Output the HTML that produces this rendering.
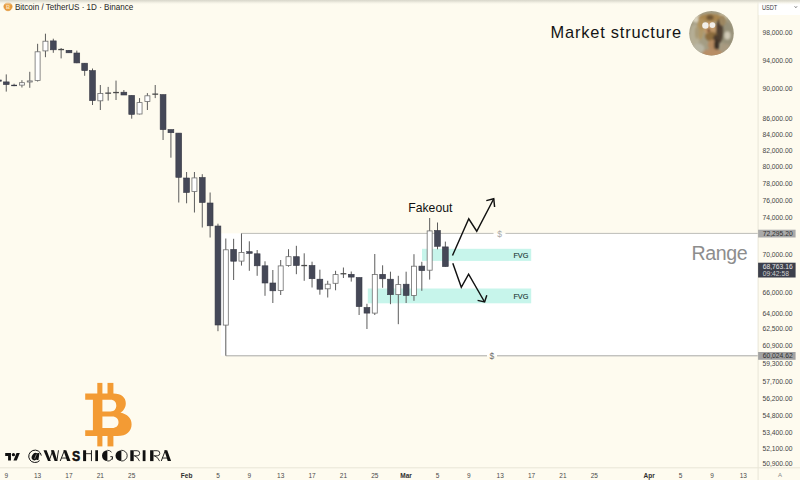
<!DOCTYPE html>
<html><head><meta charset="utf-8"><style>
html,body{margin:0;padding:0;background:#fefbef;}
body{width:800px;height:480px;overflow:hidden;position:relative;font-family:"Liberation Sans",sans-serif;}
svg{position:absolute;left:0;top:0;}
svg text{font-family:"Liberation Sans",sans-serif;}
</style></head><body>
<svg width="800" height="480" viewBox="0 0 800 480">
<rect x="0" y="0" width="800" height="480" fill="#fefbef"/>
<defs><linearGradient id="tg" x1="0" y1="0" x2="0" y2="1"><stop offset="0" stop-color="#d8d6ca"/><stop offset="0.35" stop-color="#e8e6da"/><stop offset="1" stop-color="#fefbef" stop-opacity="0"/></linearGradient></defs>

<rect x="221" y="233.4" width="537" height="122.3" fill="#ffffff"/>
<rect x="422" y="248.8" width="109.2" height="12.1" fill="#c7f5eb"/>
<rect x="367.8" y="288.5" width="163.4" height="14.8" fill="#c7f5eb"/>
<line x1="241.6" y1="233.4" x2="493.5" y2="233.4" stroke="#bdbdb8" stroke-width="1"/>
<line x1="505.5" y1="233.4" x2="758" y2="233.4" stroke="#bdbdb8" stroke-width="1"/>
<line x1="225.8" y1="355.8" x2="487" y2="355.8" stroke="#a9a9a6" stroke-width="1"/>
<line x1="497" y1="355.8" x2="758" y2="355.8" stroke="#a9a9a6" stroke-width="1"/>
<line x1="-1.59" y1="79.0" x2="-1.59" y2="82.0" stroke="#5c5c5c" stroke-width="1"/>
<rect x="-4.49" y="80.0" width="5.8" height="1.20" fill="#454857" stroke="#373945" stroke-width="0.6"/>
<line x1="6.25" y1="74.4" x2="6.25" y2="91.6" stroke="#5c5c5c" stroke-width="1"/>
<rect x="3.35" y="81.9" width="5.8" height="2.70" fill="#454857" stroke="#373945" stroke-width="0.6"/>
<line x1="14.09" y1="83.7" x2="14.09" y2="86.2" stroke="#5c5c5c" stroke-width="1"/>
<rect x="11.19" y="84.80" width="5.8" height="1.3" fill="#373945"/>
<line x1="21.93" y1="80.2" x2="21.93" y2="87.5" stroke="#5c5c5c" stroke-width="1"/>
<rect x="19.43" y="82.70" width="5.00" height="2.40" fill="#ffffff" stroke="#6e6e6e" stroke-width="0.8"/>
<line x1="29.77" y1="71.8" x2="29.77" y2="87.8" stroke="#5c5c5c" stroke-width="1"/>
<rect x="27.27" y="80.90" width="5.00" height="1.10" fill="#ffffff" stroke="#6e6e6e" stroke-width="0.8"/>
<line x1="37.61" y1="43.8" x2="37.61" y2="81.5" stroke="#5c5c5c" stroke-width="1"/>
<rect x="35.11" y="51.80" width="5.00" height="28.60" fill="#ffffff" stroke="#6e6e6e" stroke-width="0.8"/>
<line x1="45.45" y1="33.7" x2="45.45" y2="57.2" stroke="#5c5c5c" stroke-width="1"/>
<rect x="42.95" y="41.20" width="5.00" height="9.70" fill="#ffffff" stroke="#6e6e6e" stroke-width="0.8"/>
<line x1="53.30" y1="38.7" x2="53.30" y2="52.8" stroke="#5c5c5c" stroke-width="1"/>
<rect x="50.40" y="40.9" width="5.8" height="8.90" fill="#454857" stroke="#373945" stroke-width="0.6"/>
<line x1="61.14" y1="48.0" x2="61.14" y2="58.4" stroke="#5c5c5c" stroke-width="1"/>
<rect x="58.24" y="48.90" width="5.8" height="1.3" fill="#4a4a4a"/>
<line x1="68.98" y1="50.0" x2="68.98" y2="52.8" stroke="#5c5c5c" stroke-width="1"/>
<rect x="66.08" y="50.3" width="5.8" height="2.50" fill="#454857" stroke="#373945" stroke-width="0.6"/>
<line x1="76.82" y1="50.6" x2="76.82" y2="63.2" stroke="#5c5c5c" stroke-width="1"/>
<rect x="73.92" y="53.0" width="5.8" height="9.90" fill="#454857" stroke="#373945" stroke-width="0.6"/>
<line x1="84.66" y1="63.0" x2="84.66" y2="75.8" stroke="#5c5c5c" stroke-width="1"/>
<rect x="81.76" y="63.2" width="5.8" height="7.40" fill="#454857" stroke="#373945" stroke-width="0.6"/>
<line x1="92.50" y1="68.5" x2="92.50" y2="105.0" stroke="#5c5c5c" stroke-width="1"/>
<rect x="89.60" y="70.6" width="5.8" height="30.00" fill="#454857" stroke="#373945" stroke-width="0.6"/>
<line x1="100.34" y1="85.0" x2="100.34" y2="110.0" stroke="#5c5c5c" stroke-width="1"/>
<rect x="97.84" y="93.50" width="5.00" height="7.30" fill="#ffffff" stroke="#6e6e6e" stroke-width="0.8"/>
<line x1="108.18" y1="86.9" x2="108.18" y2="100.6" stroke="#5c5c5c" stroke-width="1"/>
<rect x="105.28" y="92.50" width="5.8" height="1.3" fill="#4a4a4a"/>
<line x1="116.02" y1="80.6" x2="116.02" y2="100.0" stroke="#5c5c5c" stroke-width="1"/>
<rect x="113.12" y="91.90" width="5.8" height="1.3" fill="#4a4a4a"/>
<line x1="123.87" y1="90.0" x2="123.87" y2="95.0" stroke="#5c5c5c" stroke-width="1"/>
<rect x="120.97" y="92.2" width="5.8" height="2.80" fill="#454857" stroke="#373945" stroke-width="0.6"/>
<line x1="131.71" y1="95.4" x2="131.71" y2="118.7" stroke="#5c5c5c" stroke-width="1"/>
<rect x="128.81" y="95.4" width="5.8" height="19.00" fill="#454857" stroke="#373945" stroke-width="0.6"/>
<line x1="139.55" y1="98.1" x2="139.55" y2="114.4" stroke="#5c5c5c" stroke-width="1"/>
<rect x="137.05" y="102.60" width="5.00" height="11.40" fill="#ffffff" stroke="#6e6e6e" stroke-width="0.8"/>
<line x1="147.39" y1="93.1" x2="147.39" y2="110.0" stroke="#5c5c5c" stroke-width="1"/>
<rect x="144.89" y="95.80" width="5.00" height="5.70" fill="#ffffff" stroke="#6e6e6e" stroke-width="0.8"/>
<line x1="155.23" y1="85.0" x2="155.23" y2="98.1" stroke="#5c5c5c" stroke-width="1"/>
<rect x="152.33" y="93.50" width="5.8" height="1.3" fill="#4a4a4a"/>
<line x1="163.07" y1="94.6" x2="163.07" y2="140.0" stroke="#5c5c5c" stroke-width="1"/>
<rect x="160.17" y="94.6" width="5.8" height="35.00" fill="#454857" stroke="#373945" stroke-width="0.6"/>
<line x1="170.91" y1="129.6" x2="170.91" y2="157.7" stroke="#5c5c5c" stroke-width="1"/>
<rect x="168.01" y="129.6" width="5.8" height="3.10" fill="#454857" stroke="#373945" stroke-width="0.6"/>
<line x1="178.75" y1="133.0" x2="178.75" y2="202.5" stroke="#5c5c5c" stroke-width="1"/>
<rect x="175.85" y="133.1" width="5.8" height="44.20" fill="#454857" stroke="#373945" stroke-width="0.6"/>
<line x1="186.59" y1="172.0" x2="186.59" y2="203.3" stroke="#5c5c5c" stroke-width="1"/>
<rect x="183.69" y="178.0" width="5.8" height="14.50" fill="#454857" stroke="#373945" stroke-width="0.6"/>
<line x1="194.43" y1="172.0" x2="194.43" y2="212.5" stroke="#5c5c5c" stroke-width="1"/>
<rect x="191.93" y="177.90" width="5.00" height="13.70" fill="#ffffff" stroke="#6e6e6e" stroke-width="0.8"/>
<line x1="202.28" y1="174.2" x2="202.28" y2="227.5" stroke="#5c5c5c" stroke-width="1"/>
<rect x="199.38" y="177.5" width="5.8" height="25.00" fill="#454857" stroke="#373945" stroke-width="0.6"/>
<line x1="210.12" y1="192.5" x2="210.12" y2="237.5" stroke="#5c5c5c" stroke-width="1"/>
<rect x="207.22" y="203.0" width="5.8" height="22.80" fill="#454857" stroke="#373945" stroke-width="0.6"/>
<line x1="217.96" y1="223.7" x2="217.96" y2="331.2" stroke="#5c5c5c" stroke-width="1"/>
<rect x="215.06" y="226.0" width="5.8" height="99.00" fill="#454857" stroke="#373945" stroke-width="0.6"/>
<line x1="225.80" y1="238.5" x2="225.80" y2="355.7" stroke="#5c5c5c" stroke-width="1"/>
<rect x="223.30" y="249.80" width="5.00" height="75.30" fill="#ffffff" stroke="#6e6e6e" stroke-width="0.8"/>
<line x1="233.64" y1="238.8" x2="233.64" y2="280.0" stroke="#5c5c5c" stroke-width="1"/>
<rect x="230.74" y="249.4" width="5.8" height="11.80" fill="#454857" stroke="#373945" stroke-width="0.6"/>
<line x1="241.48" y1="233.4" x2="241.48" y2="265.6" stroke="#5c5c5c" stroke-width="1"/>
<rect x="238.98" y="252.40" width="5.00" height="8.70" fill="#ffffff" stroke="#6e6e6e" stroke-width="0.8"/>
<line x1="249.32" y1="241.3" x2="249.32" y2="270.8" stroke="#5c5c5c" stroke-width="1"/>
<rect x="246.42" y="251.7" width="5.8" height="1.60" fill="#454857" stroke="#373945" stroke-width="0.6"/>
<line x1="257.16" y1="250.0" x2="257.16" y2="275.8" stroke="#5c5c5c" stroke-width="1"/>
<rect x="254.26" y="253.8" width="5.8" height="12.00" fill="#454857" stroke="#373945" stroke-width="0.6"/>
<line x1="265.00" y1="261.3" x2="265.00" y2="295.8" stroke="#5c5c5c" stroke-width="1"/>
<rect x="262.10" y="265.8" width="5.8" height="17.20" fill="#454857" stroke="#373945" stroke-width="0.6"/>
<line x1="272.84" y1="270.0" x2="272.84" y2="303.0" stroke="#5c5c5c" stroke-width="1"/>
<rect x="269.94" y="283.0" width="5.8" height="7.80" fill="#454857" stroke="#373945" stroke-width="0.6"/>
<line x1="280.69" y1="260.0" x2="280.69" y2="295.0" stroke="#5c5c5c" stroke-width="1"/>
<rect x="278.19" y="265.90" width="5.00" height="24.50" fill="#ffffff" stroke="#6e6e6e" stroke-width="0.8"/>
<line x1="288.53" y1="249.2" x2="288.53" y2="266.7" stroke="#5c5c5c" stroke-width="1"/>
<rect x="286.03" y="256.70" width="5.00" height="8.70" fill="#ffffff" stroke="#6e6e6e" stroke-width="0.8"/>
<line x1="296.37" y1="245.8" x2="296.37" y2="274.2" stroke="#5c5c5c" stroke-width="1"/>
<rect x="293.47" y="256.7" width="5.8" height="8.80" fill="#454857" stroke="#373945" stroke-width="0.6"/>
<line x1="304.21" y1="253.3" x2="304.21" y2="280.8" stroke="#5c5c5c" stroke-width="1"/>
<rect x="301.31" y="264.90" width="5.8" height="1.3" fill="#4a4a4a"/>
<line x1="312.05" y1="261.7" x2="312.05" y2="287.5" stroke="#5c5c5c" stroke-width="1"/>
<rect x="309.15" y="265.5" width="5.8" height="13.20" fill="#454857" stroke="#373945" stroke-width="0.6"/>
<line x1="319.89" y1="269.7" x2="319.89" y2="294.7" stroke="#5c5c5c" stroke-width="1"/>
<rect x="316.99" y="279.2" width="5.8" height="10.00" fill="#454857" stroke="#373945" stroke-width="0.6"/>
<line x1="327.73" y1="280.8" x2="327.73" y2="297.5" stroke="#5c5c5c" stroke-width="1"/>
<rect x="325.23" y="284.20" width="5.00" height="4.60" fill="#ffffff" stroke="#6e6e6e" stroke-width="0.8"/>
<line x1="335.57" y1="270.8" x2="335.57" y2="290.3" stroke="#5c5c5c" stroke-width="1"/>
<rect x="333.07" y="274.60" width="5.00" height="8.70" fill="#ffffff" stroke="#6e6e6e" stroke-width="0.8"/>
<line x1="343.41" y1="267.5" x2="343.41" y2="278.0" stroke="#5c5c5c" stroke-width="1"/>
<rect x="340.51" y="273.10" width="5.8" height="1.3" fill="#4a4a4a"/>
<line x1="351.25" y1="271.5" x2="351.25" y2="281.6" stroke="#5c5c5c" stroke-width="1"/>
<rect x="348.35" y="274.3" width="5.8" height="2.80" fill="#454857" stroke="#373945" stroke-width="0.6"/>
<line x1="359.10" y1="277.5" x2="359.10" y2="315.0" stroke="#5c5c5c" stroke-width="1"/>
<rect x="356.20" y="277.5" width="5.8" height="29.10" fill="#454857" stroke="#373945" stroke-width="0.6"/>
<line x1="366.94" y1="303.8" x2="366.94" y2="329.0" stroke="#5c5c5c" stroke-width="1"/>
<rect x="364.04" y="307.5" width="5.8" height="5.60" fill="#454857" stroke="#373945" stroke-width="0.6"/>
<line x1="374.78" y1="254.0" x2="374.78" y2="315.0" stroke="#5c5c5c" stroke-width="1"/>
<rect x="372.28" y="274.50" width="5.00" height="38.60" fill="#ffffff" stroke="#6e6e6e" stroke-width="0.8"/>
<line x1="382.62" y1="265.3" x2="382.62" y2="287.8" stroke="#5c5c5c" stroke-width="1"/>
<rect x="379.72" y="274.3" width="5.8" height="4.50" fill="#454857" stroke="#373945" stroke-width="0.6"/>
<line x1="390.46" y1="271.7" x2="390.46" y2="304.2" stroke="#5c5c5c" stroke-width="1"/>
<rect x="387.56" y="279.2" width="5.8" height="15.50" fill="#454857" stroke="#373945" stroke-width="0.6"/>
<line x1="398.30" y1="275.8" x2="398.30" y2="324.2" stroke="#5c5c5c" stroke-width="1"/>
<rect x="395.80" y="284.60" width="5.00" height="10.00" fill="#ffffff" stroke="#6e6e6e" stroke-width="0.8"/>
<line x1="406.14" y1="271.7" x2="406.14" y2="303.0" stroke="#5c5c5c" stroke-width="1"/>
<rect x="403.24" y="284.2" width="5.8" height="11.30" fill="#454857" stroke="#373945" stroke-width="0.6"/>
<line x1="413.98" y1="254.2" x2="413.98" y2="300.8" stroke="#5c5c5c" stroke-width="1"/>
<rect x="411.48" y="266.20" width="5.00" height="29.20" fill="#ffffff" stroke="#6e6e6e" stroke-width="0.8"/>
<line x1="421.82" y1="261.8" x2="421.82" y2="290.8" stroke="#5c5c5c" stroke-width="1"/>
<rect x="418.92" y="266.1" width="5.8" height="4.50" fill="#454857" stroke="#373945" stroke-width="0.6"/>
<line x1="429.66" y1="218.0" x2="429.66" y2="279.6" stroke="#5c5c5c" stroke-width="1"/>
<rect x="427.16" y="230.90" width="5.00" height="39.30" fill="#ffffff" stroke="#6e6e6e" stroke-width="0.8"/>
<line x1="437.50" y1="222.5" x2="437.50" y2="249.3" stroke="#5c5c5c" stroke-width="1"/>
<rect x="434.61" y="230.5" width="5.8" height="15.80" fill="#454857" stroke="#373945" stroke-width="0.6"/>
<line x1="445.35" y1="241.6" x2="445.35" y2="266.6" stroke="#5c5c5c" stroke-width="1"/>
<rect x="442.45" y="246.9" width="5.8" height="19.70" fill="#454857" stroke="#373945" stroke-width="0.6"/>
<polyline points="452.5,255.5 468.75,218.75 476.75,231.25 493.75,198.75" fill="none" stroke="#111" stroke-width="1.45" stroke-linejoin="miter"/>
<polyline points="486.3,200.6 493.75,198.75 494.6,207" fill="none" stroke="#111" stroke-width="1.45"/>
<polyline points="452.8,263.2 461.3,287.3 468.6,274.2 484.6,302" fill="none" stroke="#111" stroke-width="1.45" stroke-linejoin="miter"/>
<polyline points="477.6,300.4 484.6,302 486.8,295.3" fill="none" stroke="#111" stroke-width="1.45"/>
<text x="499.6" y="236.6" font-size="8.5" fill="#a8a8a8" text-anchor="middle">$</text>
<text x="491.8" y="359.1" font-size="8.5" fill="#6e6e6e" text-anchor="middle">$</text>
<text x="513.4" y="258.4" font-size="8" fill="#1d3634" stroke="#1d3634" stroke-width="0.15" textLength="15" lengthAdjust="spacingAndGlyphs">FVG</text>
<text x="513.4" y="298.9" font-size="8" fill="#1d3634" stroke="#1d3634" stroke-width="0.15" textLength="15" lengthAdjust="spacingAndGlyphs">FVG</text>
<text x="408.3" y="212.0" font-size="12.2" fill="#111">Fakeout</text>
<text x="691.6" y="260.4" font-size="19.6" fill="#8d8d8d" letter-spacing="-0.45">Range</text>
<!-- right axis -->
<rect x="758" y="0" width="42" height="480" fill="#fefbef"/>
<rect x="757.6" y="0" width="1" height="480" fill="#e8e5d8"/>
<rect x="0" y="467.3" width="800" height="1" fill="#e8e5d8"/>
<rect x="758.6" y="0" width="41.4" height="15" fill="#ffffff"/>
<text x="761.9" y="10.1" font-size="6.6" fill="#3a3a3a" textLength="15.4" lengthAdjust="spacingAndGlyphs">USDT</text>
<path d="M794.7,6.4 L795.85,7.6 L797,6.4" fill="none" stroke="#333" stroke-width="0.75"/>
<text x="762.4" y="35.40" font-size="6.75" fill="#454545">98,000.00</text>
<text x="762.4" y="62.80" font-size="6.75" fill="#454545">94,000.00</text>
<text x="762.4" y="91.40" font-size="6.75" fill="#454545">90,000.00</text>
<text x="762.4" y="121.30" font-size="6.75" fill="#454545">86,000.00</text>
<text x="762.4" y="136.77" font-size="6.75" fill="#454545">84,000.00</text>
<text x="762.4" y="152.62" font-size="6.75" fill="#454545">82,000.00</text>
<text x="762.4" y="168.85" font-size="6.75" fill="#454545">80,000.00</text>
<text x="762.4" y="185.50" font-size="6.75" fill="#454545">78,000.00</text>
<text x="762.4" y="202.58" font-size="6.75" fill="#454545">76,000.00</text>
<text x="762.4" y="220.12" font-size="6.75" fill="#454545">74,000.00</text>
<text x="762.4" y="256.66" font-size="6.75" fill="#454545">70,000.00</text>
<text x="762.4" y="295.36" font-size="6.75" fill="#454545">66,000.00</text>
<text x="762.4" y="315.59" font-size="6.75" fill="#454545">64,000.00</text>
<text x="762.4" y="331.19" font-size="6.75" fill="#454545">62,500.00</text>
<text x="762.4" y="348.24" font-size="6.75" fill="#454545">60,900.00</text>
<text x="762.4" y="365.75" font-size="6.75" fill="#454545">59,300.00</text>
<text x="762.4" y="383.74" font-size="6.75" fill="#454545">57,700.00</text>
<text x="762.4" y="401.06" font-size="6.75" fill="#454545">56,200.00</text>
<text x="762.4" y="417.65" font-size="6.75" fill="#454545">54,800.00</text>
<text x="762.4" y="434.67" font-size="6.75" fill="#454545">53,400.00</text>
<text x="762.4" y="450.87" font-size="6.75" fill="#454545">52,100.00</text>
<text x="762.4" y="466.20" font-size="6.75" fill="#454545">50,900.00</text>
<rect x="758.1" y="229.7" width="37.5" height="7.8" fill="#a9a9a9"/>
<text x="762.7" y="235.8" font-size="6.75" fill="#2e2e2e">72,295.20</text>
<rect x="758.1" y="262.7" width="37.5" height="14.8" fill="#3c3f4b"/>
<text x="762.7" y="268.8" font-size="6.75" fill="#e6e6e6">68,763.16</text>
<text x="762.7" y="275.6" font-size="6.75" fill="#d0d0d0">09:42:58</text>
<rect x="758.1" y="352.0" width="37.5" height="7.8" fill="#a2a2a2"/>
<text x="762.7" y="358.2" font-size="6.75" fill="#2e2e2e">60,024.62</text>
<text x="780" y="477.4" font-size="6" fill="#888" text-anchor="middle">A</text>
<text x="6.25" y="477.6" font-size="6.5" fill="#4a4a4a" text-anchor="middle" >9</text>
<text x="37.61" y="477.6" font-size="6.5" fill="#4a4a4a" text-anchor="middle" >13</text>
<text x="68.98" y="477.6" font-size="6.5" fill="#4a4a4a" text-anchor="middle" >17</text>
<text x="100.34" y="477.6" font-size="6.5" fill="#4a4a4a" text-anchor="middle" >21</text>
<text x="131.71" y="477.6" font-size="6.5" fill="#4a4a4a" text-anchor="middle" >25</text>
<text x="186.59" y="477.6" font-size="6.5" fill="#2e2e2e" text-anchor="middle" font-weight="700">Feb</text>
<text x="217.96" y="477.6" font-size="6.5" fill="#4a4a4a" text-anchor="middle" >5</text>
<text x="249.32" y="477.6" font-size="6.5" fill="#4a4a4a" text-anchor="middle" >9</text>
<text x="280.69" y="477.6" font-size="6.5" fill="#4a4a4a" text-anchor="middle" >13</text>
<text x="312.05" y="477.6" font-size="6.5" fill="#4a4a4a" text-anchor="middle" >17</text>
<text x="343.41" y="477.6" font-size="6.5" fill="#4a4a4a" text-anchor="middle" >21</text>
<text x="374.78" y="477.6" font-size="6.5" fill="#4a4a4a" text-anchor="middle" >25</text>
<text x="406.14" y="477.6" font-size="6.5" fill="#2e2e2e" text-anchor="middle" font-weight="700">Mar</text>
<text x="437.50" y="477.6" font-size="6.5" fill="#4a4a4a" text-anchor="middle" >5</text>
<text x="468.87" y="477.6" font-size="6.5" fill="#4a4a4a" text-anchor="middle" >9</text>
<text x="500.23" y="477.6" font-size="6.5" fill="#4a4a4a" text-anchor="middle" >13</text>
<text x="531.60" y="477.6" font-size="6.5" fill="#4a4a4a" text-anchor="middle" >17</text>
<text x="562.96" y="477.6" font-size="6.5" fill="#4a4a4a" text-anchor="middle" >21</text>
<text x="594.33" y="477.6" font-size="6.5" fill="#4a4a4a" text-anchor="middle" >25</text>
<text x="649.21" y="477.6" font-size="6.5" fill="#2e2e2e" text-anchor="middle" font-weight="700">Apr</text>
<text x="680.58" y="477.6" font-size="6.5" fill="#4a4a4a" text-anchor="middle" >5</text>
<text x="711.94" y="477.6" font-size="6.5" fill="#4a4a4a" text-anchor="middle" >9</text>
<text x="743.30" y="477.6" font-size="6.5" fill="#4a4a4a" text-anchor="middle" >13</text>
<!-- header -->
<circle cx="8" cy="6.6" r="4.2" fill="#e99c3e" stroke="#d98a2a" stroke-width="0.5"/>
<text x="8" y="8.6" font-size="5.6" fill="#fbe2b8" text-anchor="middle" font-weight="700">B</text>
<text x="14.9" y="9.55" font-size="8.6" fill="#1c1c1c" textLength="118.4" lengthAdjust="spacingAndGlyphs">Bitcoin / TetherUS · 1D · Binance</text>

<!-- bitcoin logo -->
<g fill="#f39b34">
<rect x="97.3" y="382.9" width="5.1" height="11.5"/>
<rect x="107.5" y="382.9" width="5.9" height="11.5"/>
<rect x="97.3" y="435" width="5.1" height="11.4"/>
<rect x="107.5" y="435" width="5.9" height="11.4"/>
<path fill-rule="evenodd" d="M85.2 393.4 L113.5 393.4 C121.5 393.4 125.8 397.5 125.8 403.2 C125.8 407.8 123.2 411 120.4 412.6 C127.3 414.2 131.6 418.3 131.6 424.3 C131.6 431.3 126.6 436.1 117.5 436.1 L85.2 436.1 L85.2 430.3 L92.9 430.3 L92.9 399.7 L85.2 399.7 Z M102.4 399.7 L110.5 399.7 C114.5 399.7 116.3 402.3 116.3 405.5 C116.3 408.8 114.5 411.4 110.5 411.4 L102.4 411.4 Z M102.4 416.5 L112 416.5 C116.5 416.5 118.5 419 118.5 422.3 C118.5 425.6 116.5 428.1 112 428.1 L102.4 428.1 Z"/>
</g>
<!-- TV logo -->
<g transform="translate(5.2,451.35) scale(0.412)" fill="#111">
<path d="M14 22H7V11H0V4h14v18zM28 22h-8l7.5-18h8L28 22z"/><circle cx="20" cy="8" r="4"/>
</g>
<!-- watermark -->
<g fill="#111">
<path d="M39.6,460.6 A6.3,6.2 0 1 1 41.3,455.6" fill="none" stroke="#111" stroke-width="1.0"/>
<ellipse cx="35.0" cy="456.6" rx="3.0" ry="4.0" transform="rotate(30 35.0 456.6)" fill="#111"/><polygon points="37.4,452.9 39.5,452.9 38.4,460.1 36.3,460.1"/>
<line x1="36.4" y1="454.2" x2="34.6" y2="458.9" stroke="#fefbef" stroke-width="0.45"/>
<polygon points="43.50,450.25 46.60,450.25 50.80,461.10 48.00,461.10"/>
<polygon points="48.60,461.10 49.50,461.10 53.30,450.25 52.40,450.25"/>
<polygon points="50.90,450.25 54.00,450.25 57.40,461.10 54.60,461.10"/>
<polygon points="56.40,461.10 57.30,461.10 58.90,450.25 58.00,450.25"/>
<polygon points="59.75,461.10 60.70,461.10 64.95,450.25 64.05,450.25"/>
<polygon points="63.40,450.25 66.30,450.25 70.50,461.10 67.10,461.10"/>
<rect x="61.45" y="457.6" width="6.55" height="0.85"/>
<text x="72.0" y="461.1" font-size="15.2" font-weight="700" textLength="8.2" lengthAdjust="spacingAndGlyphs" stroke="#111" stroke-width="0.5">S</text>
<rect x="83.1" y="450.25" width="3.0" height="10.85"/>
<rect x="90.95" y="450.25" width="0.95" height="10.85"/>
<rect x="86" y="453.3" width="5" height="0.85"/>
<rect x="95.3" y="450.25" width="2.7" height="10.85"/>
<path d="M107.4,450.25 A5.4,5.425 0 0 0 107.4,461.1 Z"/>
<path d="M107.4,450.25 A5.4,5.425 0 0 1 111.54,452.19" fill="none" stroke="#111" stroke-width="0.85"/>
<path d="M112.68,456.80 A5.4,5.425 0 0 1 107.4,461.1" fill="none" stroke="#111" stroke-width="0.85"/>
<path d="M110.3,456.6 L112.4,456.6 L112.4,459.6" fill="none" stroke="#111" stroke-width="0.85"/>
<path d="M121.35,450.25 A5.85,5.425 0 0 0 121.35,461.1 Z"/>
<path d="M121.35,450.25 A5.85,5.425 0 0 1 121.35,461.1" fill="none" stroke="#111" stroke-width="0.85"/>
<rect x="130.3" y="450.25" width="3.4" height="10.85"/>
<path d="M133.70,450.7 L137.10,450.7 A2.6,2.55 0 0 1 137.10,455.8 L133.70,455.8" fill="none" stroke="#111" stroke-width="0.85"/>
<path d="M134.50,455.8 Q137.80,456.8 139.50,461.1" fill="none" stroke="#111" stroke-width="0.85"/>
<rect x="142.7" y="450.25" width="2.8" height="10.85"/>
<rect x="150.1" y="450.25" width="3.4" height="10.85"/>
<path d="M153.50,450.7 L157.20,450.7 A2.6,2.55 0 0 1 157.20,455.8 L153.50,455.8" fill="none" stroke="#111" stroke-width="0.85"/>
<path d="M154.30,455.8 Q157.90,456.8 159.60,461.1" fill="none" stroke="#111" stroke-width="0.85"/>
<polygon points="160.80,461.10 161.75,461.10 165.85,450.25 164.95,450.25"/>
<polygon points="164.30,450.25 167.20,450.25 171.10,461.10 167.70,461.10"/>
<rect x="162.50" y="457.6" width="6.10" height="0.85"/>
</g>
<!-- avatar -->
<defs>
<clipPath id="avc"><circle cx="711.5" cy="33.3" r="22.2"/></clipPath>
<filter id="bl" x="-20%" y="-20%" width="140%" height="140%"><feGaussianBlur stdDeviation="0.8"/></filter>
<filter id="bl2" x="-20%" y="-20%" width="140%" height="140%"><feGaussianBlur stdDeviation="0.5"/></filter>
</defs>
<g clip-path="url(#avc)">
<rect x="688" y="10" width="48" height="48" fill="#a49d84"/>
<g filter="url(#bl)">
<ellipse cx="694.6" cy="36.3" rx="5" ry="12" fill="#b5ae95"/>
<ellipse cx="727.4" cy="34.4" rx="6" ry="13" fill="#979179"/>
<ellipse cx="727.4" cy="35.4" rx="3" ry="4" fill="#d0c9b6"/>
<ellipse cx="696.5" cy="18.5" rx="5" ry="4" fill="#d9d3c0"/>
<ellipse cx="722.7" cy="16.6" rx="5" ry="3" fill="#cfc7ae"/>
<ellipse cx="698.4" cy="48.5" rx="6" ry="5" fill="#b9b6a4"/>
<ellipse cx="725.5" cy="48.5" rx="5" ry="5" fill="#a89a80"/>
<ellipse cx="711" cy="18" rx="13" ry="4" fill="#a88650"/>
<ellipse cx="700.2" cy="29.7" rx="3.5" ry="10" fill="#b09868"/>
<ellipse cx="719.6" cy="31" rx="3.8" ry="12" fill="#4f4032"/>
<ellipse cx="710.1" cy="28.8" rx="6.2" ry="7.5" fill="#c29a6a"/>
<ellipse cx="711.5" cy="36.6" rx="6.5" ry="4.8" fill="#8c6c3e"/>
<ellipse cx="716.2" cy="38.4" rx="3" ry="4" fill="#4e3e2e"/>
<ellipse cx="712.4" cy="44.7" rx="4.5" ry="5" fill="#b58a60"/>
<ellipse cx="716.6" cy="45" rx="2.6" ry="6.5" fill="#3e3028"/>
<ellipse cx="712.4" cy="53" rx="10" ry="4" fill="#b88e66"/>
<ellipse cx="708.7" cy="30.4" rx="1.5" ry="1.8" fill="#7a4a30"/>
</g>
<g filter="url(#bl)">
<ellipse cx="710" cy="17.5" rx="3.5" ry="2.5" fill="#6e5534"/>
<ellipse cx="701.5" cy="24" rx="3" ry="6" fill="#b0905a"/>
<ellipse cx="722.5" cy="21" rx="3.5" ry="5" fill="#9c8660"/>
<ellipse cx="697" cy="33" rx="2" ry="6" fill="#a89a78"/>
</g>
<g filter="url(#bl2)">
<circle cx="705.4" cy="25.5" r="3.2" fill="#f2efea"/>
<circle cx="712.4" cy="25.1" r="2.9" fill="#f2efea"/>
</g>
</g>

<!-- Market structure -->
<text x="550.6" y="38" font-size="16.4" fill="#141414" letter-spacing="0.8">Market structure</text>
<rect x="0" y="0" width="800" height="5" fill="url(#tg)"/>
</svg>
</body></html>
